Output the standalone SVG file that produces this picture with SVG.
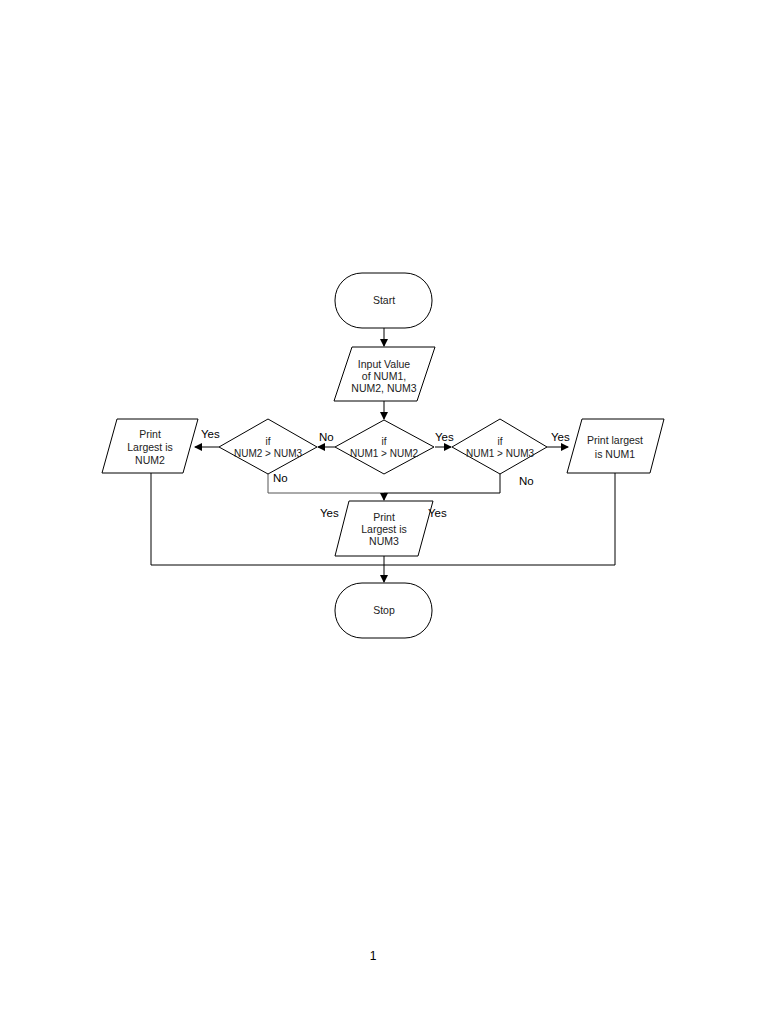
<svg xmlns="http://www.w3.org/2000/svg" width="768" height="1024" viewBox="0 0 768 1024">
<style>
.s{fill:#fff;stroke:#000;stroke-width:1}
.t{font-family:"Liberation Sans",Arial,sans-serif;font-size:10.5px;fill:#222;text-anchor:middle}
.d{font-size:10px}
.l{font-family:"Liberation Sans",Arial,sans-serif;font-size:11.5px;fill:#000}
.c{fill:none;stroke:#000;stroke-width:1}
.g{fill:none;stroke:#555;stroke-width:1}
</style>
<defs>
<marker id="a" markerWidth="8" markerHeight="8" refX="7" refY="4" orient="auto" markerUnits="userSpaceOnUse">
<path d="M0,0 L8,4 L0,8 z" fill="#000"/>
</marker>
</defs>
<rect width="768" height="1024" fill="#fff"/>
<g id="connectors">
<line class="c" x1="384" y1="328" x2="384" y2="346" marker-end="url(#a)"/>
<line class="c" x1="384" y1="401" x2="384" y2="419" marker-end="url(#a)"/>
<line class="c" x1="435" y1="447" x2="451" y2="447" marker-end="url(#a)"/>
<line class="c" x1="547" y1="447" x2="568" y2="447" marker-end="url(#a)"/>
<line class="c" x1="335" y1="447" x2="318" y2="447" marker-end="url(#a)"/>
<line class="c" x1="219" y1="447" x2="195" y2="447" marker-end="url(#a)"/>
<polyline class="g" points="268,474 268,493 384,493"/>
<polyline class="c" points="500,473 500,493 384,493"/>
<line class="c" x1="384" y1="493" x2="384" y2="500" marker-end="url(#a)"/>
<polyline class="c" points="151,473 151,565 615,565 615,473"/>
<line class="c" x1="384" y1="556" x2="384" y2="582" marker-end="url(#a)"/>
</g>
<g id="start">
<rect class="s" x="335" y="273" width="97" height="55" rx="27" ry="27"/>
<text class="t" x="384" y="304">Start</text>
</g>
<g id="input">
<polygon class="s" points="352,347 435,347 417,401 334,401"/>
<text class="t" x="384" y="368">Input Value</text>
<text class="t" x="384" y="380">of NUM1,</text>
<text class="t" x="384" y="392">NUM2, NUM3</text>
</g>
<g id="dec1">
<polygon class="s" points="384,420 434,447 384,474 335,447"/>
<text class="t d" x="384" y="445">if</text>
<text class="t d" x="384" y="457">NUM1 &gt; NUM2</text>
</g>
<g id="dec2">
<polygon class="s" points="500,419 547,447 500,474 452,447"/>
<text class="t d" x="500" y="445">if</text>
<text class="t d" x="500" y="457">NUM1 &gt; NUM3</text>
</g>
<g id="dec3">
<polygon class="s" points="268,419 317,447 268,474 219,447"/>
<text class="t d" x="268" y="445">if</text>
<text class="t d" x="268" y="457">NUM2 &gt; NUM3</text>
</g>
<g id="print1">
<polygon class="s" points="582,419 664,419 650,473 567,473"/>
<text class="t" x="615" y="444">Print largest</text>
<text class="t" x="615" y="458">is NUM1</text>
</g>
<g id="print2">
<polygon class="s" points="117,419 198,419 183,473 102,473"/>
<text class="t" x="150" y="438">Print</text>
<text class="t" x="150" y="451">Largest is</text>
<text class="t" x="150" y="464">NUM2</text>
</g>
<g id="print3">
<polygon class="s" points="349,501 433,501 418,556 335,556"/>
<text class="t" x="384" y="521">Print</text>
<text class="t" x="384" y="533">Largest is</text>
<text class="t" x="384" y="545">NUM3</text>
</g>
<g id="stop">
<rect class="s" x="335" y="583" width="97" height="55" rx="27" ry="27"/>
<text class="t" x="384" y="614">Stop</text>
</g>
<g id="labels">
<text class="l" x="201" y="438">Yes</text>
<text class="l" x="319" y="441">No</text>
<text class="l" x="435" y="441">Yes</text>
<text class="l" x="551" y="441">Yes</text>
<text class="l" x="273" y="482">No</text>
<text class="l" x="519" y="485">No</text>
<text class="l" x="320" y="517">Yes</text>
<text class="l" x="428" y="517">Yes</text>
</g>
<text x="373" y="960" font-family="'Liberation Sans',sans-serif" font-size="12" text-anchor="middle" fill="#000">1</text>
</svg>
